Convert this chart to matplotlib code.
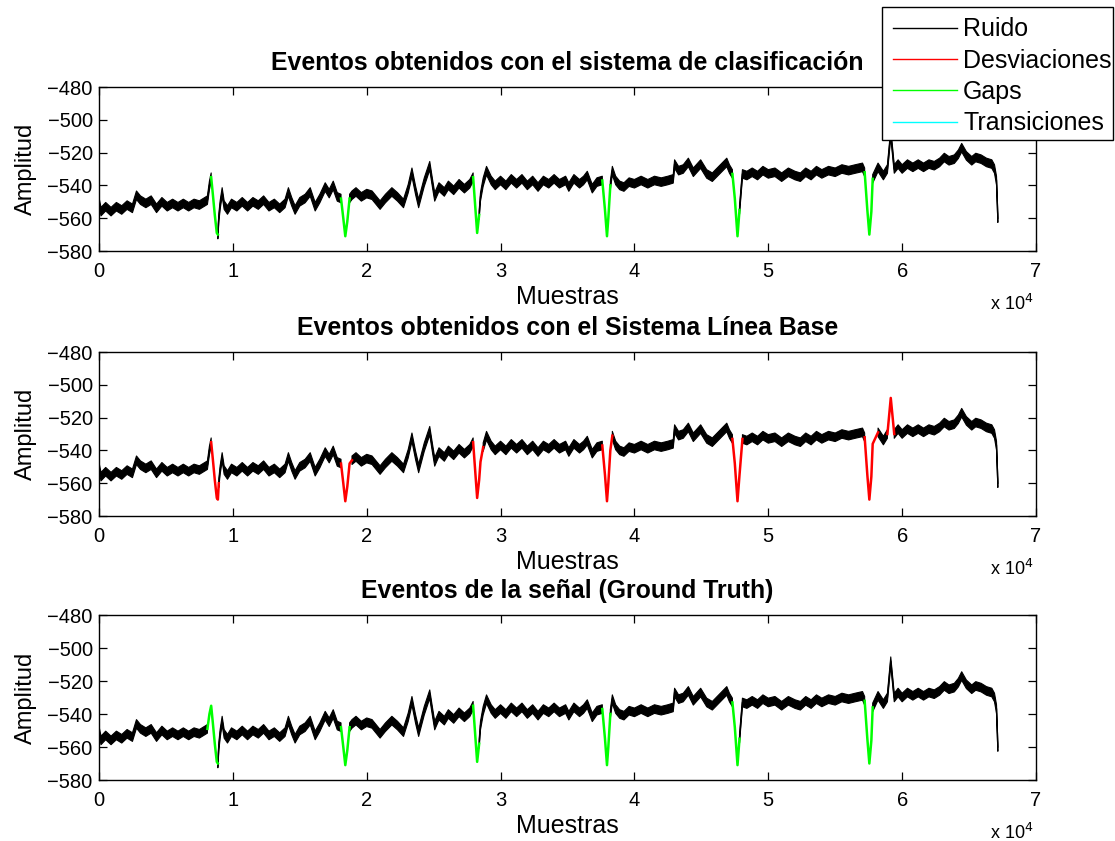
import numpy as np
import matplotlib
matplotlib.use("Agg")
import matplotlib.pyplot as plt
from matplotlib.lines import Line2D
from matplotlib.patches import Rectangle

plt.rcParams['font.family'] = ['Liberation Sans', 'DejaVu Sans']

# ---------------- data ----------------
samples = [0, 150, 500, 900, 1300, 1700, 2100, 2500, 2800, 3100, 3500, 3900, 4300, 4700, 5100,
           5500, 5900, 6300, 6700, 7100, 7500, 7900, 8100, 8250, 8380, 8500, 8650, 8800, 8880,
           8950, 9050, 9200, 9350, 9600, 9900, 10300, 10700, 11100, 11500, 11900, 12300, 12700,
           13100, 13500, 13900, 14150, 14400, 14650, 15000, 15400, 15780, 16150, 16500, 16900,
           17200, 17500, 17800, 18080, 18250, 18400, 18550, 18720, 18900, 19200, 19600, 20000,
           20400, 20700, 21000, 21400, 21880, 22300, 22750, 23100, 23380, 23650, 23880, 24300,
           24710, 24900, 25080, 25400, 25800, 26100, 26500, 26900, 27300, 27700, 27950, 28100,
           28250, 28400, 28500, 28700, 28950, 29300, 29600, 30000, 30400, 30800, 31200, 31600,
           32000, 32400, 32800, 33200, 33600, 34000, 34400, 34860, 35100, 35480, 35900, 36200,
           36480, 36850, 37200, 37600, 37800, 37950, 38050, 38200, 38350, 38600, 38900, 39220,
           39600, 40000, 40500, 41000, 41500, 42000, 42500, 42900, 43000, 43300, 43650, 44030,
           44400, 44950, 45400, 45820, 46300, 46900, 47100, 47320, 47500, 47700, 47850, 48070,
           48400, 48800, 49200, 49600, 50000, 50500, 51000, 51500, 52000, 52400, 52800, 53200,
           53600, 54000, 54500, 55000, 55500, 56000, 56500, 57040, 57200, 57400, 57550, 57700,
           57800, 58200, 58600, 58900, 59150, 59410, 59700, 60000, 60400, 60800, 61200, 61600,
           62000, 62400, 62800, 63150, 63500, 63900, 64200, 64450, 64800, 65200, 65500, 65900,
           66300, 66700, 66900, 67050, 67150]
amplitude = [-550, -556, -553, -556, -553, -555, -552, -554, -546, -549, -551, -549, -554, -550, -553,
             -551, -553, -551, -553, -551, -552, -550, -549, -540, -535, -545, -558, -569, -570,
             -560, -552, -544, -552, -555, -551, -553, -550, -553, -550, -552, -549, -553,
             -551, -554, -551, -544, -550, -555, -550, -548, -544, -553, -548, -541,
             -545, -540, -547, -548, -560, -571, -562, -548, -546, -544, -547, -545,
             -546, -549, -552, -548, -544, -547, -551, -542, -532, -543, -551, -538,
             -528, -538, -547, -541, -544, -540, -543, -539, -542, -539, -535, -552,
             -569, -558, -547, -538, -531, -537, -540, -537, -540, -536, -539, -536,
             -540, -537, -541, -537, -539, -536, -539, -537, -541, -536, -539, -537,
             -534, -542, -538, -537, -555, -571, -560, -540, -531, -537, -540, -541,
             -538, -539, -537, -539, -537, -538, -537, -536, -527, -531, -530, -526,
             -532, -527, -533, -535, -531, -526, -530, -533, -548, -571, -555, -533,
             -534, -532, -534, -531, -533, -532, -535, -532, -534, -535, -532, -534,
             -531, -533, -531, -532, -530, -531, -530, -529, -532, -555, -570, -556,
             -536, -529, -534, -530, -508, -530, -527, -530, -527, -529, -527, -529,
             -527, -528, -526, -523, -525, -524, -521, -517, -522, -525, -523, -524,
             -526, -527, -530, -537, -560]

panel_titles = ["Eventos obtenidos con el sistema de clasificación",
                "Eventos obtenidos con el Sistema Línea Base",
                "Eventos de la señal (Ground Truth)"]

# event segments per panel: (start sample, end sample, class)
events_clasificacion = [(8380, 8880, "Gaps"), (18080, 18720, "Gaps"), (27950, 28400, "Gaps"),
                        (37600, 38200, "Gaps"), (47320, 47850, "Gaps"), (57200, 57800, "Gaps")]
events_linea_base = [(8380, 8950, "Desviaciones"), (18080, 18900, "Desviaciones"),
                     (27950, 28700, "Desviaciones"), (37600, 38350, "Desviaciones"),
                     (47320, 48070, "Desviaciones"), (57200, 58200, "Desviaciones"),
                     (58900, 59410, "Desviaciones")]
events_ground_truth = [(8100, 8880, "Gaps"), (18080, 18720, "Gaps"), (27950, 28400, "Gaps"),
                       (37600, 38200, "Gaps"), (47320, 47850, "Gaps"), (57200, 57800, "Gaps")]
panel_events = [events_clasificacion, events_linea_base, events_ground_truth]

legend_labels = ["Ruido", "Desviaciones", "Gaps", "Transiciones"]
class_colors = {"Ruido": "black", "Desviaciones": "#ff0000", "Gaps": "#00ff00",
                "Transiciones": "#00ffff"}

xticks = [0, 10000, 20000, 30000, 40000, 50000, 60000, 70000]
xticklabels = ["0", "1", "2", "3", "4", "5", "6", "7"]
yticks = [-580, -560, -540, -520, -500, -480]

# ---------------- figure ----------------
W, H = 1115, 841
fig = plt.figure(figsize=(W / 100, H / 100), dpi=100)

def px_axes(left, top, right, bottom):
    return fig.add_axes([left / W, 1 - bottom / H, (right - left) / W, (bottom - top) / H])

boxes = [(99, 87, 1036, 251), (99, 352, 1036, 516), (99, 615, 1036, 780)]
s = np.array(samples, dtype=float)
v = np.array(amplitude, dtype=float)
half = 2.6

for i, (box, title, evs) in enumerate(zip(boxes, panel_titles, panel_events)):
    ax = px_axes(*box)
    interior = np.zeros(len(s), dtype=bool)
    for (a, b, cls) in evs:
        interior |= (s > a) & (s < b)
    keep = ~interior
    ax.fill_between(s, v - half, v + half, where=keep, color="black", lw=0.8,
                    edgecolor="black", interpolate=False)
    vb = np.where(keep, v, np.nan)
    ax.plot(s, vb, color="black", lw=1.0)
    for (a, b, cls) in evs:
        m = (s >= a) & (s <= b)
        ax.plot(s[m], v[m], color=class_colors[cls], lw=1.8, solid_joinstyle="round")
    ax.set_xlim(0, 70000)
    ax.set_ylim(-580, -480)
    ax.set_xticks(xticks)
    ax.set_xticklabels(xticklabels)
    ax.set_yticks(yticks)
    ax.tick_params(direction="in", length=6, width=0.9, top=True, right=True,
                   labelsize=14.5, pad=4.5)
    ax.tick_params(axis="x", pad=8)
    for sp in ax.spines.values():
        sp.set_linewidth(1.0)
    ax.set_title(title, fontsize=17.9, fontweight="bold", pad=12)
    ax.set_xlabel("Muestras", fontsize=18, labelpad=3)
    ax.set_ylabel("Amplitud", fontsize=17, labelpad=7.5)
    ax.text(0.951, -0.32, r"x 10$^{4}$", transform=ax.transAxes, fontsize=13,
            ha="left", va="center")

# legend frame (white box) and entries
frame = Rectangle((882 / W, 1 - 140 / H), (1113 - 882) / W, (140 - 7) / H,
                  transform=fig.transFigure, facecolor="white", edgecolor="black",
                  lw=1.0, zorder=4)
fig.patches.append(frame)
handles = [Line2D([], [], color=class_colors[k], lw=1.0) for k in legend_labels]
leg = fig.legend(handles, legend_labels, loc="upper left",
                 bbox_to_anchor=(893 / W, 1 - 17.5 / H), fontsize=18, handlelength=2.56,
                 frameon=False, borderpad=0, labelspacing=0.29, handletextpad=0.24,
                 borderaxespad=0)
leg.set_zorder(5)

fig.savefig("out.png", dpi=100)
